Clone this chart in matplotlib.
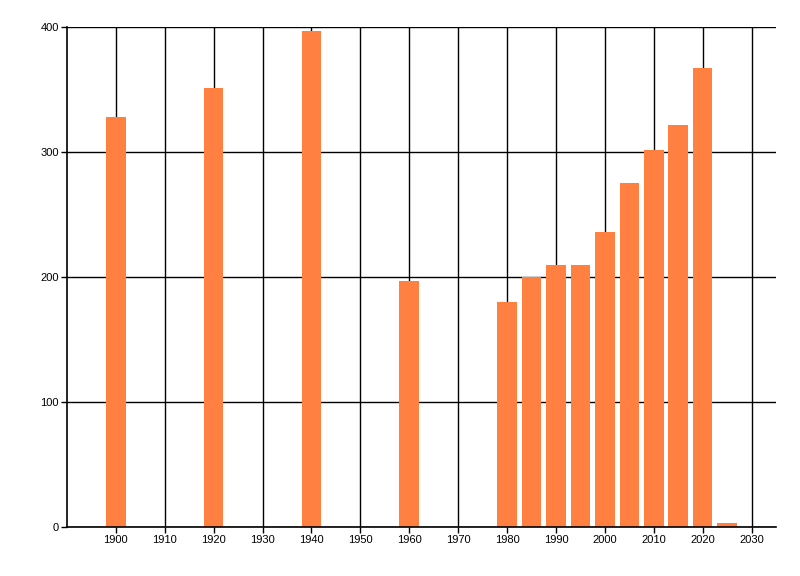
import matplotlib
matplotlib.use("Agg")
import matplotlib.pyplot as plt

# data
years = [1900, 1920, 1940, 1960, 1980, 1985, 1990, 1995, 2000, 2005, 2010, 2015, 2020, 2025]
values = [328, 351, 397, 197, 180, 200, 210, 210, 236, 275, 302, 322, 367, 3]
xticks = list(range(1900, 2031, 10))
yticks = [0, 100, 200, 300, 400]

plt.rcParams['font.family'] = ['Liberation Sans', 'DejaVu Sans']

fig = plt.figure(figsize=(8, 5.76), dpi=100)
ax = fig.add_axes([0.08375, 0.085, 0.97 - 0.08375, 0.953 - 0.085])

ax.set_axisbelow(True)
ax.bar(years, values, width=4, color='#FF8040', zorder=2)

ax.set_xlim(1890, 2035)
ax.set_ylim(0, 400)
ax.set_xticks(xticks)
ax.set_yticks(yticks)
ax.grid(True, color='black', linewidth=1)
ax.tick_params(axis='both', labelsize=8, length=4, width=1, color='black', pad=2)

for side in ['top', 'right']:
    ax.spines[side].set_visible(False)
for side in ['left', 'bottom']:
    ax.spines[side].set_linewidth(1.2)

fig.savefig('out.png', dpi=100)
